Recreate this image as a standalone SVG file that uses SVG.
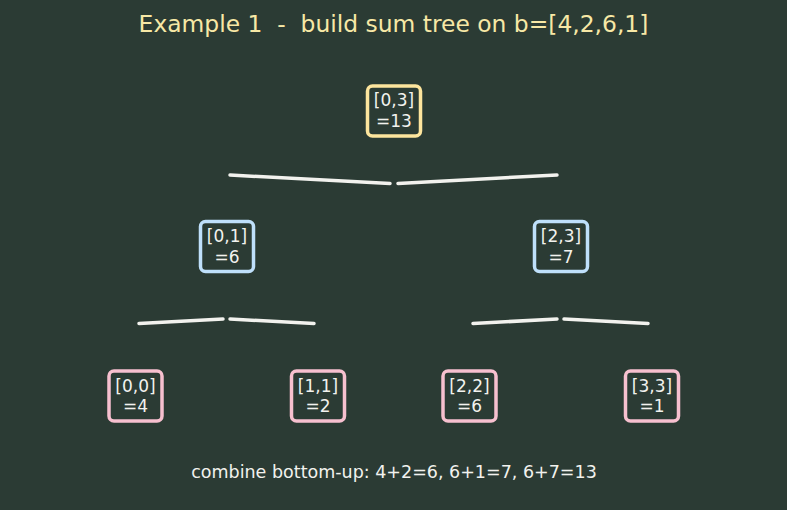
<svg xmlns="http://www.w3.org/2000/svg" width="787" height="510" viewBox="0 0 787 510">
<style>
.bg{fill:#2b3b34}
.box{fill:#2b3b34;stroke-width:3.5}
.root{stroke:#fde59d}
.mid{stroke:#bfe0fb}
.leaf{stroke:#f7c0cf}
.lbl{font-family:"DejaVu Sans",sans-serif;font-size:17px;fill:#f2f2ee;text-anchor:middle}
.title{font-family:"DejaVu Sans",sans-serif;font-size:23.4px;fill:#f7e8a6;text-anchor:middle;white-space:pre}
.cap{font-family:"DejaVu Sans",sans-serif;font-size:17.5px;fill:#f2f2ee;text-anchor:middle}
.edge{stroke:#f2f2ee;stroke-width:3.5;stroke-linecap:round;fill:none}
</style>
<rect class="bg" x="0" y="0" width="787" height="510"/>
<text class="title" x="393.5" y="32" xml:space="preserve">Example 1  -  build sum tree on b=[4,2,6,1]</text>
<g id="connectors">
<line class="edge" x1="230" y1="175" x2="390" y2="183.5"/>
<line class="edge" x1="398" y1="183.5" x2="557" y2="175"/>
<line class="edge" x1="139" y1="323.5" x2="223" y2="319"/>
<line class="edge" x1="230" y1="319" x2="314" y2="323.5"/>
<line class="edge" x1="473" y1="323.5" x2="557" y2="319"/>
<line class="edge" x1="564" y1="319" x2="648" y2="323.5"/>
</g>
<g id="n03">
<rect class="box root" x="367.5" y="86" width="53" height="50" rx="5"/>
<text class="lbl" x="394" y="106">[0,3]</text>
<text class="lbl" x="394" y="127">=13</text>
</g>
<g id="n01">
<rect class="box mid" x="200.5" y="221.5" width="53" height="50" rx="5"/>
<text class="lbl" x="227" y="242">[0,1]</text>
<text class="lbl" x="227" y="262.5">=6</text>
</g>
<g id="n23">
<rect class="box mid" x="534.5" y="221.5" width="53" height="50" rx="5"/>
<text class="lbl" x="561" y="242">[2,3]</text>
<text class="lbl" x="561" y="262.5">=7</text>
</g>
<g id="n00">
<rect class="box leaf" x="109" y="371" width="53" height="50" rx="5"/>
<text class="lbl" x="135.5" y="391.5">[0,0]</text>
<text class="lbl" x="135.5" y="412">=4</text>
</g>
<g id="n11">
<rect class="box leaf" x="291.5" y="371" width="53" height="50" rx="5"/>
<text class="lbl" x="318" y="391.5">[1,1]</text>
<text class="lbl" x="318" y="412">=2</text>
</g>
<g id="n22">
<rect class="box leaf" x="443" y="371" width="53" height="50" rx="5"/>
<text class="lbl" x="469.5" y="391.5">[2,2]</text>
<text class="lbl" x="469.5" y="412">=6</text>
</g>
<g id="n33">
<rect class="box leaf" x="625.5" y="371" width="53" height="50" rx="5"/>
<text class="lbl" x="652" y="391.5">[3,3]</text>
<text class="lbl" x="652" y="412">=1</text>
</g>
<text class="cap" x="394" y="478">combine bottom-up: 4+2=6, 6+1=7, 6+7=13</text>
</svg>
